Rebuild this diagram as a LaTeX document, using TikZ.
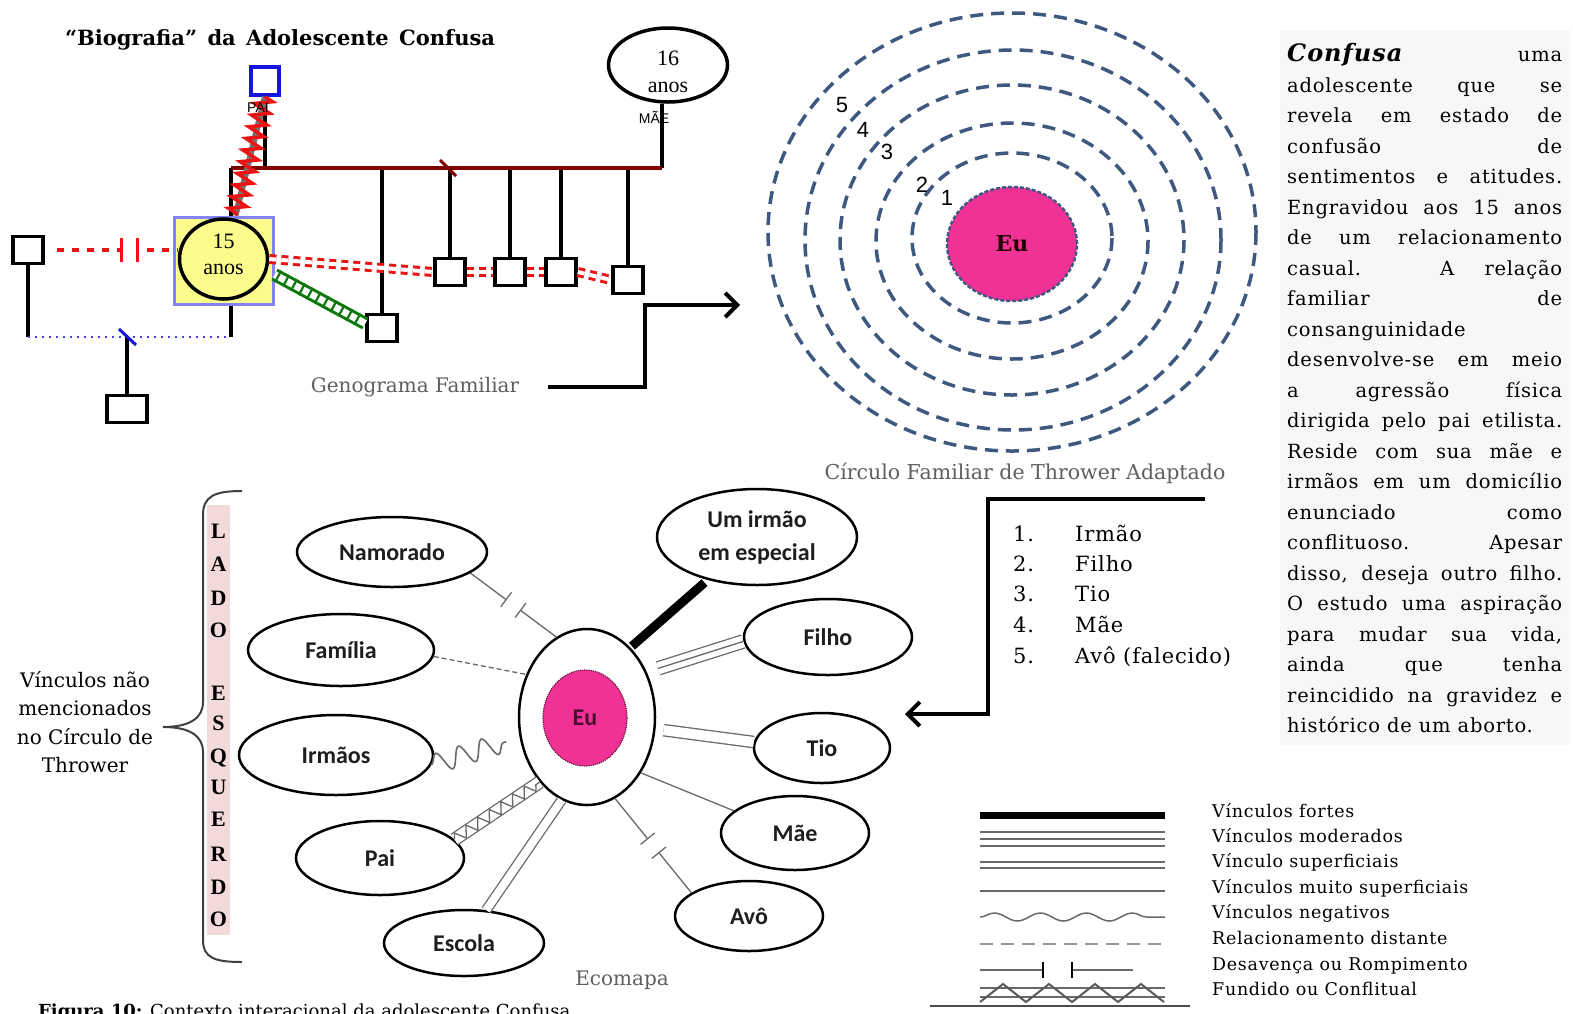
\documentclass[tikz,border=0pt]{standalone}
\usepackage{fontspec}
\setmainfont{DejaVu Serif}
\newfontfamily\bodyfont[LetterSpace=4]{DejaVu Serif}
\newfontfamily\timesfont{Liberation Serif}
\newfontfamily\calfont{Carlito}
\newfontfamily\arialfont{Liberation Sans}
\usetikzlibrary{shapes.geometric,decorations.pathmorphing,decorations.markings,arrows.meta,calc}

\definecolor{ringblue}{RGB}{62,88,128}
\definecolor{eupink}{RGB}{240,50,150}
\definecolor{maroon}{RGB}{128,0,0}
\definecolor{dgreen}{RGB}{10,120,10}
\definecolor{boxyellow}{RGB}{252,252,140}
\definecolor{periwinkle}{RGB}{130,130,250}
\definecolor{bandpink}{RGB}{242,218,218}
\definecolor{capgray}{RGB}{95,95,95}
\definecolor{lgray}{RGB}{105,105,105}
\definecolor{gred}{RGB}{235,20,20}
\definecolor{gblue}{RGB}{20,20,220}
\definecolor{ink}{RGB}{30,30,30}

\tikzset{
  gsq/.style={draw, line width=3.5pt, fill=white, minimum width=30pt, minimum height=27pt, inner sep=0pt},
  gline/.style={line width=3.5pt},
  reddash/.style={draw=gred, line width=3.5pt, dash pattern=on 7pt off 8pt},
  reddbl/.style={draw=gred, line width=3pt, double=white, double distance=4pt, dash pattern=on 7pt off 5pt},
  divorce/.style={postaction={decorate}, decoration={markings, mark=at position #1 with {
      \fill[white] (-8pt,-4pt) rectangle (8pt,4pt);
      \draw[gred, line width=3pt, solid] (-8pt,-12pt) -- (-8pt,12pt) (8pt,-12pt) -- (8pt,12pt);}}},
  gladder/.style={draw=dgreen, line width=3pt, double=white, double distance=7pt},
  rungs/.style={decorate, decoration={markings, mark=between positions 0.04 and 0.97 step 9pt with {
      \draw[dgreen, line width=2.2pt, solid] (0pt,-6.5pt) -- (0pt,6.5pt);}}},
  bluedot/.style={draw=gblue!80, line width=2.2pt, dash pattern=on 2pt off 5pt},
  bigarrow/.style={line width=4pt, -{Straight Barb[length=12pt,width=24pt]}},
  ring/.style={draw=ringblue, line width=3.5pt, dash pattern=on 13pt off 8pt},
  eco/.style={ellipse, draw, line width=2.5pt, fill=white, inner sep=0pt, text=ink,
      font=\calfont\bfseries\fontsize{24}{33}\selectfont},
  elink/.style={draw=lgray, line width=1.3pt},
  rompe/.style={postaction={decorate}, decoration={markings, mark=at position 0.5 with {
      \fill[white] (-9pt,-3pt) rectangle (9pt,3pt);
      \draw[solid] (-9pt,-9pt) -- (-9pt,9pt) (9pt,-9pt) -- (9pt,9pt);}}},
  captxt/.style={text=capgray, font=\fontsize{20}{24}\selectfont},
  legtxt/.style={anchor=base west, inner sep=0pt, font=\bodyfont\fontsize{17.5}{20}\selectfont},
  lst/.style={anchor=base west, inner sep=0pt, font=\bodyfont\fontsize{21}{24}\selectfont},
}

% one justified line of the side paragraph
\newcommand\jline[4][s]{\node[anchor=base west, inner sep=0pt, font=\bodyfont\fontsize{19.5}{22}\selectfont] (#2) at (1287,#3) {\makebox[275pt][#1]{#4}};}

\begin{document}
\begin{tikzpicture}[x=1pt, y=-1pt]
\useasboundingbox (0,0) rectangle (1573,1013);
\clip (0,0) rectangle (1573,1013);
\fill[white] (0,0) rectangle (1573,1013);

% ---------------- title ----------------
\node[inner sep=0pt, font=\bfseries\fontsize{21}{24}\selectfont] (title) at (280,40)
  {\makebox[430pt][s]{“Biografia” da Adolescente Confusa}};

% ---------------- genogram ----------------
\node[gsq, draw=gblue, minimum width=28pt, minimum height=28pt] (pai) at (265,81) {};
\node[draw=periwinkle, line width=3pt, fill=boxyellow, minimum width=99pt, minimum height=87pt, inner sep=0pt] (girl) at (223.5,260.5) {};
\node[ellipse, draw, line width=3.5pt, minimum width=88pt, minimum height=80pt, inner sep=0pt] (girlc) at (223.5,259) {};
\node[align=center, inner sep=0pt, font=\timesfont\fontsize{22}{26}\selectfont] (girlt) at (223.5,254) {15\\anos};
\node[ellipse, draw, line width=3.5pt, fill=white, minimum width=119pt, minimum height=74pt, inner sep=0pt] (mae) at (668,65) {};
\node[align=center, inner sep=0pt, font=\timesfont\fontsize{22}{27}\selectfont] (maet) at (668,72) {16\\anos};
\node[gsq] (sqL) at (28,250) {};
\node[gsq, minimum width=40pt, minimum height=27pt] (sqB) at (127,409) {};
\node[gsq] (sqG) at (382,328) {};
\node[gsq] (c1) at (450,272) {};
\node[gsq] (c2) at (510,272) {};
\node[gsq] (c3) at (561,272) {};
\node[gsq] (c4) at (628,280) {};

\coordinate (mL) at (231,168);
\coordinate (mR) at (662,168);
\coordinate (gB) at (231,337);
\coordinate (slash) at (448,168);

\draw[gline] (pai.south) -- (pai.south |- mL);
\draw[gline] (mL) -- (mL |- girl.north);
\draw[gline] (mR |- mae.south) -- (mR);
\foreach \k in {sqG,c1,c2,c3,c4} \draw[gline] (\k.north) -- (\k.north |- mL);
\draw[maroon, line width=4pt] (mL) -- (mR);
\draw[maroon, line width=3pt] (slash) +(-8,-8) -- +(8,8);

\draw[gline] (girl.south -| gB) -- (gB);
\draw[gline] (sqL.south) -- (sqL.south |- gB);
\draw[bluedot] (sqL.south |- gB) -- (gB);
\draw[gline] (sqB.north) -- (sqB.north |- gB);
\draw[gblue, line width=3pt] (sqB.north |- gB) +(-8,-8) -- +(9,8);

\draw[reddash, divorce=0.6] ([xshift=12pt]sqL.east) -- (girlc.west |- sqL.east);
\draw[reddbl] (girlc.east) -- (c1.west);
\draw[reddbl] (c1.east) -- (c2.west);
\draw[reddbl] (c2.east) -- (c3.west);
\draw[reddbl] (c3.east) -- (c4.west);

\draw[gladder] ([yshift=-14pt]girl.east) -- (sqG.165);
\path[rungs] ([yshift=-14pt]girl.east) -- (sqG.165);

\draw[black!55, line width=6pt] (pai.south) -- ([xshift=12pt]girl.north);
\draw[gred, line width=3.5pt, decorate, decoration={zigzag, amplitude=8.5pt, segment length=12pt}]
  (pai.south) -- ([xshift=12pt]girl.north);

\node[inner sep=0pt, font=\arialfont\fontsize{14}{14}\selectfont] (pailbl) at (258,108) {PAI};
\node[inner sep=0pt, font=\arialfont\fontsize{14}{14}\selectfont] (maelbl) at (654,117) {MÃE};

\node[captxt] (geno) at (415,387) {Genograma Familiar};
\coordinate (genoEnd) at (740,305);
\draw[bigarrow] ([xshift=25pt]geno.east) -| ([xshift=-95pt]genoEnd) -- (genoEnd);

% ---------------- Thrower circle ----------------
\draw[ring] (1012,232) ellipse [x radius=244, y radius=219];
\draw[ring] (1013,240) ellipse [x radius=208, y radius=190];
\draw[ring] (1012,240) ellipse [x radius=172, y radius=155];
\draw[ring] (1012,241) ellipse [x radius=136, y radius=118];
\draw[ring] (1012,238) ellipse [x radius=100, y radius=85];
\node[ellipse, fill=eupink, draw=ringblue, dash pattern=on 4pt off 2pt, line width=2.5pt,
  minimum width=130pt, minimum height=114pt, inner sep=0pt, text=black!85!red,
  font=\bfseries\fontsize{22}{22}\selectfont] (teu) at (1012,244) {Eu};
\foreach \n/\xx/\yy in {5/842/105, 4/863/130, 3/887/152, 2/922/185, 1/947/198}
  \node[inner sep=0pt, font=\arialfont\fontsize{22}{22}\selectfont] (tn\n) at (\xx,\yy) {\n};
\node[captxt, font=\fontsize{20.5}{24}\selectfont] (thr) at (1025,473) {Círculo Familiar de Thrower Adaptado};

% ---------------- numbered list ----------------
\node[lst] (n1) at (1013,541) {1.};  \node[lst] (i1) at (1075,541) {Irmão};
\node[lst] (n2) at (1013,571) {2.};  \node[lst] (i2) at (1075,571) {Filho};
\node[lst] (n3) at (1013,601) {3.};  \node[lst] (i3) at (1075,601) {Tio};
\node[lst] (n4) at (1013,632) {4.};  \node[lst] (i4) at (1075,632) {Mãe};
\node[lst] (n5) at (1013,663) {5.};  \node[lst] (i5) at (1075,663) {Avô (falecido)};
\coordinate (lstTR) at (1205,499);
\coordinate (lstEnd) at (905,714);
\draw[bigarrow] (lstTR) -| ([xshift=83pt]lstEnd) -- (lstEnd);

% ---------------- side paragraph ----------------
\fill[black!3] (1280,30) rectangle (1570,745);
\jline{p1}{61}{{\fontsize{24}{24}\selectfont\bfseries\itshape Confusa} uma}
\jline{p2}{92}{adolescente que se}
\jline{p3}{122}{revela em estado de}
\jline{p4}{153}{confusão de}
\jline{p5}{183}{sentimentos e atitudes.}
\jline{p6}{214}{Engravidou aos 15 anos}
\jline{p7}{244}{de um relacionamento}
\jline{p8}{275}{casual. A relação}
\jline{p9}{305}{familiar de}
\jline[l]{p10}{336}{consanguinidade}
\jline{p11}{366}{desenvolve-se em meio}
\jline{p12}{397}{a agressão física}
\jline{p13}{427}{dirigida pelo pai etilista.}
\jline{p14}{458}{Reside com sua mãe e}
\jline{p15}{488}{irmãos em um domicílio}
\jline{p16}{519}{enunciado como}
\jline{p17}{549}{conflituoso. Apesar}
\jline{p18}{580}{disso, deseja outro filho.}
\jline{p19}{610}{O estudo uma aspiração}
\jline{p20}{641}{para mudar sua vida,}
\jline{p21}{671}{ainda que tenha}
\jline{p22}{702}{reincidido na gravidez e}
\jline[l]{p23}{732}{histórico de um aborto.}

% ---------------- ecomap ----------------
\fill[bandpink] (207,505) rectangle (230,935);
\foreach \ch/\yy [count=\i] in {L/530, A/563, D/597, O/629, E/692, S/722, Q/755, U/786, E/818, R/853, D/886, O/918}
  \node[anchor=base, inner sep=0pt, font=\timesfont\bfseries\fontsize{22}{22}\selectfont] (lado\i) at (218.5,\yy+8) {\ch};
\draw[black!75, line width=2pt] (242,491) .. controls (215,491) and (203,496) .. (203,515) -- (203,702)
  .. controls (203,718) and (190,727) .. (163,727) .. controls (190,727) and (203,736) .. (203,752)
  -- (203,940) .. controls (203,958) and (215,962) .. (242,962);
\node[align=center, font=\fontsize{20}{28.5}\selectfont] (vnm) at (85,722)
  {Vínculos não\\mencionados\\no Círculo de\\Thrower};

\node[eco, minimum width=190pt, minimum height=70pt] (nam) at (392,552) {Namorado};
\node[eco, minimum width=186pt, minimum height=72pt] (fam) at (341,650) {Família};
\node[eco, minimum width=194pt, minimum height=80pt] (irm) at (336,755) {Irmãos};
\node[eco, minimum width=168pt, minimum height=74pt] (paiE) at (380,858) {Pai};
\node[eco, minimum width=160pt, minimum height=66pt] (esc) at (464,943) {Escola};
\node[eco, minimum width=200pt, minimum height=96pt, align=center] (irmesp) at (757,537) {Um irmão\\em especial};
\node[eco, minimum width=168pt, minimum height=76pt] (filho) at (828,637) {Filho};
\node[eco, minimum width=136pt, minimum height=70pt] (tio) at (822,748) {Tio};
\node[eco, minimum width=148pt, minimum height=74pt] (maeE) at (795,833) {Mãe};
\node[eco, minimum width=148pt, minimum height=70pt] (avo) at (749,916) {Avô};
\node[eco, minimum width=136pt, minimum height=176pt] (eu) at (587,717) {};
\node[ellipse, fill=eupink, draw=black!60!eupink, densely dotted, line width=1.2pt,
  minimum width=84pt, minimum height=96pt, inner sep=0pt, text=black!70!eupink,
  font=\calfont\bfseries\fontsize{24}{24}\selectfont] (euin) at (585,718) {Eu};

\draw[elink, rompe] (nam.-15) -- (eu.111);
\draw[elink, dash pattern=on 5pt off 3pt] (fam.-4) -- (eu.145);
\draw[elink, line width=1.6pt, decorate, decoration={snake, amplitude=10pt, segment length=24pt}]
  (irm.-6) -- ($(eu.197)!14pt!(irm.-6)$);
\draw[elink, double=white, double distance=11pt] (paiE.14) -- (eu.234);
\draw[elink, decorate, decoration={zigzag, amplitude=5.5pt, segment length=14pt}] (paiE.14) -- (eu.234);
\draw[elink, double=white, double distance=8pt] (esc.56) -- (eu.253);
\draw[line width=9pt, shorten <=4pt, shorten >=2pt] (irmesp.221) -- (eu.58);
\draw[elink, double=white, double distance=12pt, shorten >=12pt] (filho.183) -- (eu.37);
\draw[elink, shorten >=12pt] (filho.183) -- (eu.37);
\draw[elink, double=white, double distance=10pt, shorten >=8pt] (tio.175) -- (eu.-10);
\draw[elink] (maeE.160) -- (eu.-46);
\draw[elink, rompe] (avo.158) -- (eu.-71);

\node[captxt] (eco) at (622,980) {Ecomapa};

% ---------------- legend ----------------
\draw[line width=7pt] (980,815) -- (1165,815);
\draw[lgray, line width=1.5pt] (980,832) -- (1165,832) (980,839) -- (1165,839) (980,846) -- (1165,846);
\draw[lgray, line width=1.5pt] (980,862) -- (1165,862) (980,868) -- (1165,868);
\draw[lgray, line width=1.5pt] (980,891) -- (1165,891);
\draw[lgray, line width=1.5pt, decorate, decoration={snake, amplitude=4pt, segment length=46pt}] (980,917) -- (1165,917);
\draw[lgray!70, line width=1.5pt, dash pattern=on 13pt off 8pt] (980,944) -- (1165,944);
\draw[lgray, line width=1.5pt] (980,970) -- (1043,970) (1072,970) -- (1133,970);
\draw[black, line width=2.5pt] (1043,962) -- (1043,978) (1072,962) -- (1072,978);
\draw[lgray, line width=1.5pt] (980,988) -- (1165,988) (980,997) -- (1165,997);
\draw[black!65, line width=2pt] (980,1002) -- (1003,984) -- (1026,1002) -- (1049,984) -- (1072,1002)
  -- (1095,984) -- (1118,1002) -- (1141,984) -- (1164,1002);
\draw[black!70, line width=1.2pt] (930,1006) -- (1190,1006);
\node[legtxt] (lg1) at (1212,817) {Vínculos fortes};
\node[legtxt] (lg2) at (1212,842) {Vínculos moderados};
\node[legtxt] (lg3) at (1212,867) {Vínculo superficiais};
\node[legtxt] (lg4) at (1212,893) {Vínculos muito superficiais};
\node[legtxt] (lg5) at (1212,918) {Vínculos negativos};
\node[legtxt] (lg6) at (1212,944) {Relacionamento distante};
\node[legtxt] (lg7) at (1212,970) {Desavença ou Rompimento};
\node[legtxt] (lg8) at (1212,995) {Fundido ou Conflitual};

% ---------------- figure caption (cut by the page edge) ----------------
\node[anchor=base west, inner sep=0pt, font=\fontsize{18}{20}\selectfont] (fig) at (38,1017)
  {\textbf{Figura 10:} Contexto interacional da adolescente Confusa};
\end{tikzpicture}
\end{document}
